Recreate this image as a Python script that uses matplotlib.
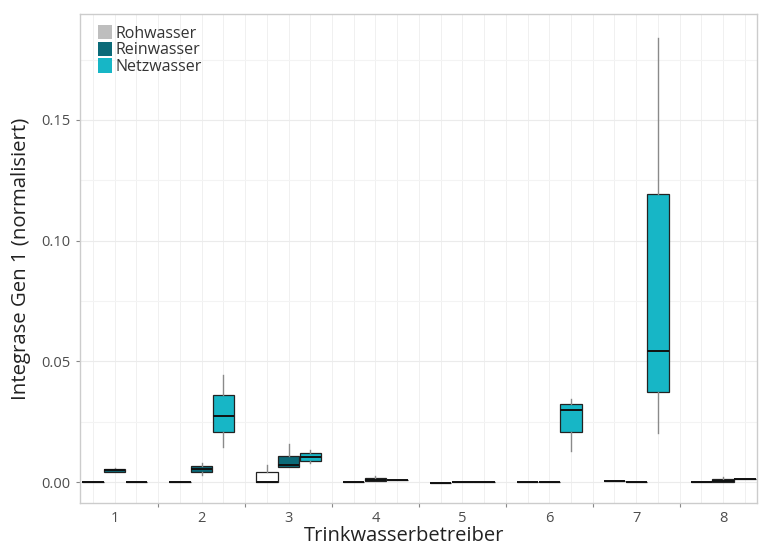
import matplotlib
matplotlib.use("Agg")
import matplotlib.pyplot as plt
import numpy as np
from matplotlib.patches import Patch

plt.rcParams["font.family"] = ["Open Sans", "DejaVu Sans"]

# operators (Trinkwasserbetreiber)
operators = ["1", "2", "3", "4", "5", "6", "7", "8"]
series = ["Rohwasser", "Reinwasser", "Netzwasser"]
colors = ["#FFFFFF", "#0B6A78", "#17B6C6"]
legend_colors = ["#BEBEBE", "#0B6A78", "#17B6C6"]

# box statistics per series, one value per operator
roh_whislo = [0.0, 0.0, 0.0, 0.0, -0.0002, 0.0001, 0.0005, 0.0]
roh_q1 = [0.0, 0.0, 0.0, 0.0, -0.0002, 0.0001, 0.0005, 0.0]
roh_med = [0.0, 0.0, 0.0, 0.0, -0.0002, 0.0001, 0.0005, 0.0]
roh_q3 = [0.0, 0.0, 0.0041, 0.0, -0.0002, 0.0001, 0.0005, 0.0]
roh_whishi = [0.0, 0.0, 0.0071, 0.0, -0.0002, 0.0001, 0.0005, 0.0]

rein_whislo = [0.0041, 0.0030, 0.0062, 0.0005, 0.0, 0.0, -0.0001, 0.0]
rein_q1 = [0.0043, 0.0042, 0.0062, 0.0005, 0.0, 0.0, -0.0001, 0.0]
rein_med = [0.0050, 0.0054, 0.0070, 0.0010, 0.0, 0.0, -0.0001, 0.0005]
rein_q3 = [0.0056, 0.0066, 0.0108, 0.0017, 0.0, 0.0, -0.0001, 0.0012]
rein_whishi = [0.0058, 0.0079, 0.0157, 0.0025, 0.0, 0.0, -0.0001, 0.0020]

netz_whislo = [0.0001, 0.0145, 0.0079, 0.0008, 0.0001, 0.0128, 0.0203, 0.0012]
netz_q1 = [0.0001, 0.0207, 0.0087, 0.0008, 0.0001, 0.0207, 0.0373, 0.0012]
netz_med = [0.0001, 0.0273, 0.0104, 0.0008, 0.0001, 0.0298, 0.0543, 0.0012]
netz_q3 = [0.0001, 0.0360, 0.0120, 0.0008, 0.0001, 0.0323, 0.1193, 0.0012]
netz_whishi = [0.0001, 0.0443, 0.0133, 0.0008, 0.0001, 0.0344, 0.1840, 0.0012]

all_stats = [
    (roh_whislo, roh_q1, roh_med, roh_q3, roh_whishi),
    (rein_whislo, rein_q1, rein_med, rein_q3, rein_whishi),
    (netz_whislo, netz_q1, netz_med, netz_q3, netz_whishi),
]

fig = plt.figure(figsize=(7.59, 5.47), dpi=100)
ax = fig.add_axes([0.1054, 0.0804, 0.892, 0.894])

centers = np.arange(1, len(operators) + 1)
offsets = [-0.25, 0.0, 0.25]
width = 0.245

# grid first so boxes sit on top
for gx in np.arange(0.75, 8.5, 0.25):
    ax.axvline(gx, color="#EEEEEE", lw=0.6, zorder=0)
for gy in np.arange(-0.025, 0.2, 0.025):
    ax.axhline(gy, color="#EBEBEB" if round(gy / 0.025) % 2 == 0 else "#F3F3F3", lw=0.8, zorder=0)

for k, (lo, q1, med, q3, hi) in enumerate(all_stats):
    stats = [
        {"whislo": lo[i], "q1": q1[i], "med": med[i], "q3": q3[i], "whishi": hi[i], "fliers": []}
        for i in range(len(operators))
    ]
    ax.bxp(
        stats,
        positions=centers + offsets[k],
        widths=width,
        patch_artist=True,
        showcaps=False,
        showfliers=False,
        manage_ticks=False,
        boxprops=dict(facecolor=colors[k], edgecolor="#222222", linewidth=0.9),
        whiskerprops=dict(color="#8A8A8A", linewidth=1.0),
        medianprops=dict(color="#111111", linewidth=1.4),
        zorder=3,
    )

ax.set_xlim(0.6, 8.39)
ax.set_ylim(-0.0087, 0.1939)
ax.set_xticks(centers)
ax.set_xticklabels(operators)
ax.set_xticks(np.arange(1.5, 8.5, 1.0), minor=True)
ax.set_yticks([0.0, 0.05, 0.10, 0.15])
ax.set_yticklabels(["0.00", "0.05", "0.10", "0.15"])
ax.tick_params(axis="x", which="major", length=0, labelsize=10.5, labelcolor="#4D4D4D", pad=6)
ax.tick_params(axis="x", which="minor", length=3, color="#888888", width=0.8)
ax.tick_params(axis="y", length=3, color="#888888", labelsize=10.5, labelcolor="#4D4D4D", pad=4)

for sp in ax.spines.values():
    sp.set_color("#CCCCCC")
    sp.set_linewidth(1.0)

ax.set_xlabel("Trinkwasserbetreiber", fontsize=14.5, color="#222222")
ax.xaxis.set_label_coords(0.479, -0.048, transform=None)
ax.xaxis.label.set_verticalalignment("top")
ax.set_ylabel("Integrase Gen 1 (normalisiert)", fontsize=14.7, color="#222222", labelpad=7)

handles = [Patch(facecolor=c, edgecolor="none", label=s) for c, s in zip(legend_colors, series)]
ax.legend(handles=handles, loc="upper left", frameon=False, fontsize=11.5,
          handlelength=0.9, handleheight=1.0, handletextpad=0.2, labelspacing=0.0,
          borderaxespad=0.3, bbox_to_anchor=(0.01, 1.0), labelcolor="#333333")

fig.savefig("out.png", dpi=100)
